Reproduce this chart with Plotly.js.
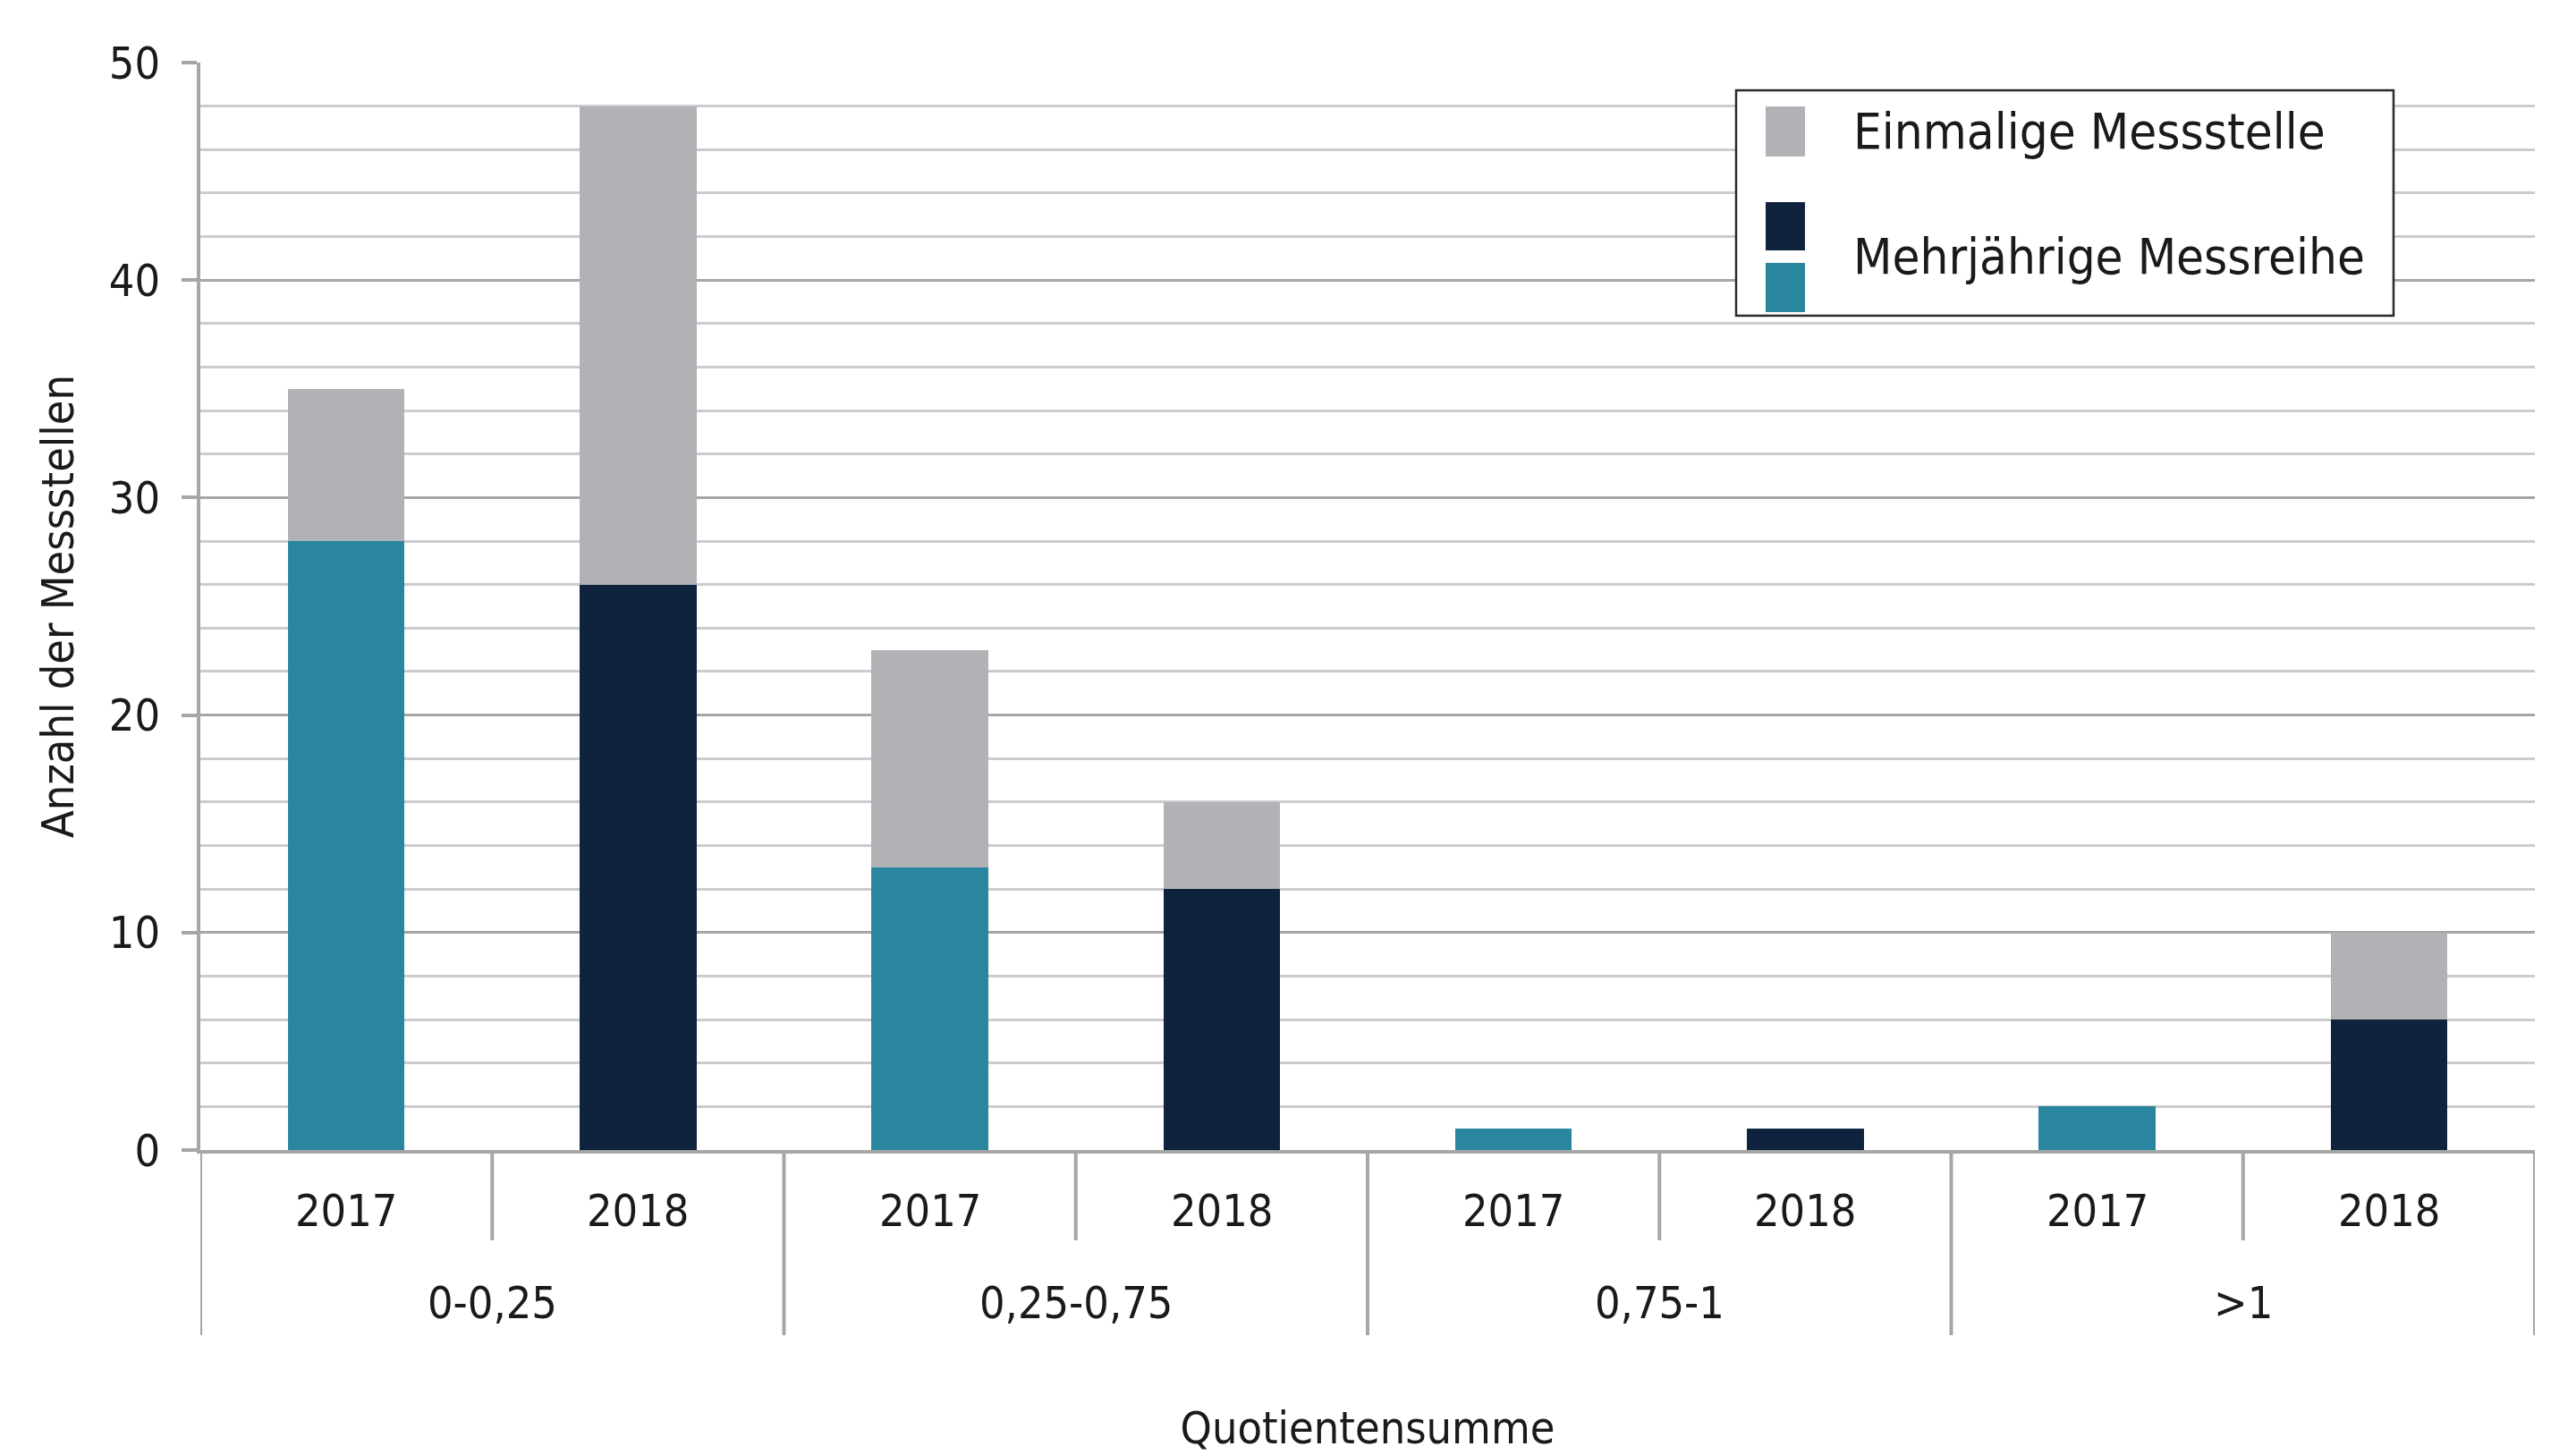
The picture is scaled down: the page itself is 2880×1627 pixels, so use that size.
<!DOCTYPE html>
<html>
<head>
<meta charset="utf-8">
<script src="https://cdn.plot.ly/plotly-3.0.1.min.js"></script>
<style>
  html, body { margin: 0; padding: 0; background: #ffffff; }
  #chart { width: 2880px; height: 1627px; }
</style>
</head>
<body>
<div id="chart"></div>
<script>
// ---------------- data ----------------
const groups = ['0-0,25', '0,25-0,75', '0,75-1', '>1'];
const years = ['2017', '2018'];
const mehrjaehrig2017 = [28, 13, 1, 2];
const mehrjaehrig2018 = [26, 12, 1, 6];
const einmalig2017 = [7, 10, 0, 0];
const einmalig2018 = [22, 4, 0, 4];
const seriesNames = ['Einmalige Messstelle', 'Mehrjährige Messreihe'];
const yTitle = 'Anzahl der Messstellen';
const xTitle = 'Quotientensumme';

// ---------------- styling ----------------
const FONT = '"DejaVu Sans Condensed", "DejaVu Sans", sans-serif';
const TEXT = '#1a1a1a';
const AXIS = '#a6a6a6';
const MINOR = '#cbccd0';
const C_TEAL = '#2a869e';
const C_NAVY = '#10233e';
const C_GREY = '#b1b2b5';

const FIG_W = 2880, FIG_H = 1627;
const M = { l: 224, r: 46, t: 70, b: 341 };
const PW = FIG_W - M.l - M.r;
const PH = FIG_H - M.t - M.b;
const AXIS_PX = FIG_H - M.b;
const px2x = px => (px - M.l) / PW;
const px2y = py => (AXIS_PX - py) / PH;

// categories (group + year)
const cats = [];
const catYear = [];
const y2017 = [], y2018 = [], yEin = [];
groups.forEach((g, gi) => {
  years.forEach((yr, yi) => {
    cats.push(g + ' ' + yr);
    catYear.push(yr);
    y2017.push(yi === 0 ? mehrjaehrig2017[gi] : null);
    y2018.push(yi === 1 ? mehrjaehrig2018[gi] : null);
    yEin.push(yi === 0 ? einmalig2017[gi] : einmalig2018[gi]);
  });
});

const traces = [
  { type: 'bar', name: seriesNames[1] + ' 2017', x: cats, y: y2017,
    marker: { color: C_TEAL, line: { width: 0 } }, showlegend: false },
  { type: 'bar', name: seriesNames[1] + ' 2018', x: cats, y: y2018,
    marker: { color: C_NAVY, line: { width: 0 } }, showlegend: false },
  { type: 'bar', name: seriesNames[0], x: cats, y: yEin,
    marker: { color: C_GREY, line: { width: 0 } }, showlegend: false }
];

// ---------------- axis category labels & dividers ----------------
const annotations = [];
const shapes = [];
cats.forEach((c, i) => {
  annotations.push({ x: c, xref: 'x', y: px2y(AXIS_PX + 68), yref: 'paper',
    text: catYear[i], showarrow: false, xanchor: 'center', yanchor: 'middle',
    font: { family: FONT, size: 50, color: TEXT } });
});
groups.forEach((g, gi) => {
  annotations.push({ x: gi * years.length + (years.length - 1) / 2, xref: 'x',
    y: px2y(AXIS_PX + 171), yref: 'paper', text: g, showarrow: false,
    xanchor: 'center', yanchor: 'middle',
    font: { family: FONT, size: 50, color: TEXT } });
});
for (let b = 0; b <= cats.length; b++) {
  const isGroup = b % years.length === 0;
  shapes.push({ type: 'line', xref: 'x', yref: 'paper',
    x0: b - 0.5, x1: b - 0.5, y0: 0, y1: px2y(AXIS_PX + (isGroup ? 207 : 101)),
    line: { color: AXIS, width: 4 }, layer: 'above' });
}

// ---------------- legend (drawn as box) ----------------
const LB = { x0: 1941, x1: 2676, y0: 101, y1: 353 };
shapes.push({ type: 'rect', xref: 'paper', yref: 'paper',
  x0: px2x(LB.x0), x1: px2x(LB.x1), y0: px2y(LB.y1), y1: px2y(LB.y0),
  fillcolor: '#ffffff', line: { color: '#2a2a2a', width: 2.5 }, layer: 'above' });
const swatches = [
  { c: C_GREY, t: 119, b: 175 },
  { c: C_NAVY, t: 226, b: 280 },
  { c: C_TEAL, t: 294, b: 349 }
];
swatches.forEach(s => shapes.push({ type: 'rect', xref: 'paper', yref: 'paper',
  x0: px2x(1974), x1: px2x(2018), y0: px2y(s.b), y1: px2y(s.t),
  fillcolor: s.c, line: { width: 0 }, layer: 'above' }));
[[seriesNames[0], 146], [seriesNames[1], 286]].forEach(([t, cy]) => {
  annotations.push({ x: px2x(2070), xref: 'paper', y: px2y(cy), yref: 'paper',
    text: t, showarrow: false, xanchor: 'left', yanchor: 'middle',
    font: { family: FONT, size: 56, color: TEXT } });
});

const layout = {
  width: FIG_W, height: FIG_H,
  margin: M,
  paper_bgcolor: '#ffffff', plot_bgcolor: '#ffffff',
  barmode: 'stack', bargap: 0.6,
  showlegend: false,
  font: { family: FONT, color: TEXT },
  xaxis: {
    type: 'category', categoryorder: 'array', categoryarray: cats,
    range: [-0.5, cats.length - 0.5],
    showticklabels: false, ticks: '', showgrid: false, zeroline: false,
    showline: true, linecolor: AXIS, linewidth: 4,
    title: { text: xTitle, standoff: 291, font: { family: FONT, size: 50, color: TEXT } }
  },
  yaxis: {
    range: [0, 50], tick0: 0, dtick: 10,
    ticks: 'outside', ticklen: 17, tickwidth: 4, tickcolor: AXIS,
    showline: true, linecolor: AXIS, linewidth: 4,
    showgrid: true, gridcolor: AXIS, gridwidth: 3, zeroline: false,
    minor: { dtick: 2, showgrid: true, gridcolor: MINOR, gridwidth: 3, ticks: '' },
    tickfont: { family: FONT, size: 50, color: TEXT },
    ticklabelstandoff: 14,
    title: { text: yTitle, standoff: 24, font: { family: FONT, size: 50, color: TEXT } }
  },
  annotations: annotations,
  shapes: shapes
};

Plotly.newPlot('chart', traces, layout, { staticPlot: true, displayModeBar: false });
</script>
</body>
</html>
